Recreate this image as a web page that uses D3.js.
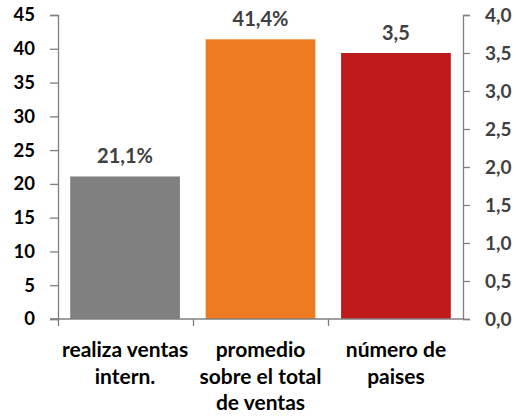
<!DOCTYPE html>
<html><head><meta charset="utf-8">
<script src="https://cdn.jsdelivr.net/npm/d3@7"></script>
<style>body{margin:0;background:#fff;} text{font-family:Lato,"Open Sans",sans-serif;font-weight:bold;}</style>
</head><body><svg id="c" width="516" height="420"></svg>
<script>
const categories = [["realiza ventas","intern."],["promedio","sobre el total","de ventas"],["número de","paises"]];
const values = [21.1, 41.4, 3.5];
const axisSide = ["left","left","right"];
const valueLabels = ["21,1%","41,4%","3,5"];
const colors = ["#808080","#ee7b22","#be1a1c"];
const leftTicks = [0,5,10,15,20,25,30,35,40,45];
const rightTicks = [0,0.5,1,1.5,2,2.5,3,3.5,4];

const svg = d3.select("#c");
const x0 = 58, x1 = 463, yTop = 15, yBot = 319;
const x = d3.scaleBand().domain(d3.range(3)).range([x0,x1]).paddingInner(0.19).paddingOuter(0.09);
const yL = d3.scaleLinear().domain([0,45]).range([yBot,yTop]);
const yR = d3.scaleLinear().domain([0,4]).range([yBot,yTop]);
const axisColor = "#7f7f7f";

// bars
svg.selectAll("rect.bar").data(values).join("rect")
  .attr("x",(d,i)=>x(i)).attr("width",x.bandwidth())
  .attr("y",(d,i)=>(axisSide[i]==="left"?yL:yR)(d))
  .attr("height",(d,i)=>yBot-(axisSide[i]==="left"?yL:yR)(d))
  .attr("fill",(d,i)=>colors[i]);

// value labels
svg.selectAll("text.val").data(values).join("text")
  .attr("x",(d,i)=>x(i)+x.bandwidth()/2)
  .attr("y",(d,i)=>(axisSide[i]==="left"?yL:yR)(d)-13)
  .attr("text-anchor","middle").attr("font-size",20).attr("fill","#404040")
  .text((d,i)=>valueLabels[i]);

// left axis
const gL = svg.append("g").attr("transform",`translate(${x0},0)`)
  .call(d3.axisLeft(yL).tickValues(leftTicks).tickSize(8).tickPadding(15).tickFormat(d3.format("d")));
gL.selectAll("text").attr("font-size",18.5).attr("fill","#000");
// right axis
const gR = svg.append("g").attr("transform",`translate(${x1},0)`)
  .call(d3.axisRight(yR).tickValues(rightTicks).tickSize(7).tickPadding(15).tickFormat(d=>d.toFixed(1).replace(".",",")));
gR.selectAll("text").attr("font-size",19).attr("fill","#404040").attr("text-anchor","start");
// bottom axis
const xb = d3.scaleLinear().domain([0,3]).range([x0,x1]);
const gB = svg.append("g").attr("transform",`translate(0,${yBot})`)
  .call(d3.axisBottom(xb).tickValues([0,1,2]).tickSize(7).tickFormat(""));
[gL,gR,gB].forEach(g=>{g.selectAll("path.domain").attr("stroke",axisColor).attr("stroke-width",1.3);
  g.selectAll(".tick line").attr("stroke",axisColor).attr("stroke-width",1.3);});
gB.select("path.domain").attr("d",`M${x0-8},0H${x1}`);

// category labels
const cg = svg.selectAll("text.cat").data(categories).join("text")
  .attr("text-anchor","middle").attr("font-size",21).attr("fill","#000")
  .attr("x",(d,i)=>x(i)+x.bandwidth()/2).attr("y",357);
cg.selectAll("tspan").data(d=>d).join("tspan")
  .attr("x",function(){return this.parentNode.getAttribute("x");})
  .attr("dy",(d,j)=>j===0?0:26.5).text(d=>d);
</script></body></html>
